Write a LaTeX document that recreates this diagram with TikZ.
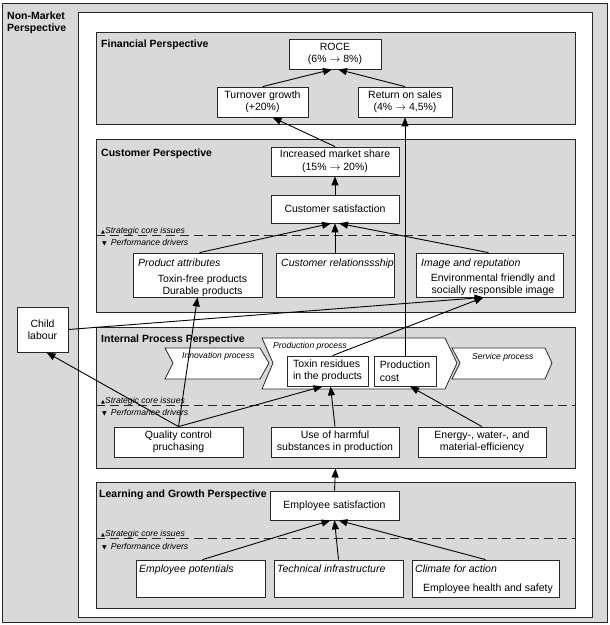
\documentclass[tikz,border=0pt]{standalone}
\usepackage{fontspec}
\setmainfont{Liberation Sans}
\newfontfamily\symfont{DejaVu Sans}
\usetikzlibrary{arrows.meta,calc}
\definecolor{bgray}{RGB}{217,217,217}
\definecolor{lineC}{RGB}{40,40,40}
\begin{document}
\begin{tikzpicture}[x=1pt,y=-1pt,
  font=\fontsize{10.5}{12.5}\selectfont,
  region/.style={draw=lineC, line width=0.9pt, fill=bgray, inner sep=0pt},
  wbox/.style={draw=lineC, line width=0.8pt, fill=white, inner sep=0pt, align=center},
  ttl/.style={font=\fontsize{10.5}{12.5}\selectfont\bfseries, anchor=base west, inner sep=0pt},
  hdr/.style={font=\fontsize{10.5}{12.5}\selectfont\itshape, anchor=base west, inner sep=0pt},
  body/.style={anchor=base, inner sep=0pt},
  small/.style={font=\fontsize{8.6}{10}\selectfont\itshape, anchor=base west, inner sep=0pt},
  arr/.style={draw=black, line width=0.9pt, -{Triangle[length=9pt,width=7pt]}},
  plain/.style={draw=black, line width=0.9pt},
  dsh/.style={draw=lineC, line width=0.9pt, dash pattern=on 9pt off 5pt},
  chev/.style={draw=lineC, line width=0.8pt, fill=white, line join=miter}
]
\useasboundingbox (0,0) rectangle (610,625);

% regions
\node[region, minimum width=605pt, minimum height=619pt] (nm) at (304.5,312.5) {};
\node[draw=lineC, line width=0.9pt, fill=white, inner sep=0pt, minimum width=514pt, minimum height=605pt] (wh) at (335,314.5) {};
\node[region, minimum width=479pt, minimum height=92pt] (fin) at (335.5,78) {};
\node[region, minimum width=479pt, minimum height=173pt] (cus) at (335.5,225.5) {};
\node[region, minimum width=479pt, minimum height=141pt] (ipp) at (335.5,397.5) {};
\node[region, minimum width=479pt, minimum height=126pt] (lgp) at (335.5,545) {};

% titles
\node[ttl] (nmt1) at (7,19) {Non-Market};
\node[ttl] (nmt2) at (7,31) {Perspective};
\node[ttl] (fint) at (101,47) {Financial Perspective};
\node[ttl] (cust) at (101,156) {Customer Perspective};
\node[ttl] (ippt) at (101,342) {Internal Process Perspective};
\node[ttl] (lgpt) at (99,497) {Learning and Growth Perspective};

% dashed dividers and labels
\draw[dsh] (cus.west |- 0,235) -- (cus.east |- 0,235);
\draw[dsh] (ipp.west |- 0,405) -- (ipp.east |- 0,405);
\draw[dsh] (lgp.west |- 0,538) -- (lgp.east |- 0,538);
\node[small] (cs1) at (101,233) {{\symfont\fontsize{5}{6}\selectfont ▲}Strategic core issues};
\node[small] (cp1) at (102,245) {{\symfont\fontsize{6}{6}\selectfont ▼}\hspace{4pt}Performance drivers};
\node[small] (is1) at (101,403) {{\symfont\fontsize{5}{6}\selectfont ▲}Strategic core issues};
\node[small] (ip1) at (102,415) {{\symfont\fontsize{6}{6}\selectfont ▼}\hspace{4pt}Performance drivers};
\node[small] (ls1) at (101,536) {{\symfont\fontsize{5}{6}\selectfont ▲}Strategic core issues};
\node[small] (lp1) at (102,549) {{\symfont\fontsize{6}{6}\selectfont ▼}\hspace{4pt}Performance drivers};

% chevrons
\draw[chev] (165,348) -- (260,348) -- (269,363) -- (260,379) -- (165,379) -- (173,363) -- cycle;
\draw[chev] (262,338) -- (445,338) -- (457,363) -- (445,389) -- (262,389) -- (273,363) -- cycle;
\draw[chev] (452,348) -- (545,348) -- (552,363) -- (545,379) -- (452,379) -- (460,363) -- cycle;
\node[small] (inn) at (182,358) {Innovation process};
\node[small] (prod) at (273,348) {Production process};
\node[small] (serv) at (472,359) {Service process};

% financial
\node[wbox, minimum width=92pt, minimum height=30pt] (roce) at (335,54) {ROCE\\(6\% $\rightarrow$ 8\%)};
\node[wbox, minimum width=91pt, minimum height=30pt] (tg) at (262.5,102) {Turnover growth\\(+20\%)};
\node[wbox, minimum width=94pt, minimum height=30pt] (ros) at (405,102) {Return on sales\\(4\% $\rightarrow$ 4,5\%)};

% customer
\node[wbox, minimum width=128pt, minimum height=29pt] (ims) at (335,161.5) {Increased market share\\(15\% $\rightarrow$ 20\%)};
\node[wbox, minimum width=128pt, minimum height=28pt] (csat) at (335,209) {Customer satisfaction};
\node[wbox, minimum width=129pt, minimum height=44pt] (pa) at (197.5,275) {};
\node[wbox, minimum width=118pt, minimum height=44pt] (cr) at (335,275) {};
\node[wbox, minimum width=147pt, minimum height=44pt] (ir) at (489.5,275) {};
\node[hdr] (pah) at (138,266) {Product attributes};
\node[body] (pa1) at (202.5,282) {Toxin-free products};
\node[body] (pa2) at (202.5,294) {Durable products};
\node[hdr] (crh) at (281,266) {Customer relationssship};
\node[hdr] (irh) at (421,266) {Image and reputation};
\node[body] (ir1) at (493,281) {Environmental friendly and};
\node[body] (ir2) at (493,293) {socially responsible image};

% non-market
\node[wbox, minimum width=51pt, minimum height=45pt] (child) at (42.5,329.5) {Child\\labour};

% internal
\node[wbox, minimum width=81pt, minimum height=30pt, align=left] (tox) at (327.5,371) {Toxin residues\\in the products};
\node[wbox, minimum width=62pt, minimum height=30pt, align=left] (pc) at (405,371) {Production\\cost};
\node[wbox, minimum width=129pt, minimum height=30pt] (qc) at (178.5,442) {Quality control\\pruchasing};
\node[wbox, minimum width=128pt, minimum height=30pt] (uh) at (335,442) {Use of harmful\\substances in production};
\node[wbox, minimum width=128pt, minimum height=30pt] (en) at (482,442) {Energy-, water-, and\\material-efficiency};

% learning
\node[wbox, minimum width=129pt, minimum height=29pt] (es) at (334.5,505.5) {Employee satisfaction};
\node[wbox, minimum width=129pt, minimum height=37pt] (ep) at (200.5,578.5) {};
\node[wbox, minimum width=129pt, minimum height=37pt] (ti) at (338.5,578.5) {};
\node[wbox, minimum width=147pt, minimum height=37pt] (cl) at (485.5,578.5) {};
\node[hdr] (eph) at (139,572) {Employee potentials};
\node[hdr] (tih) at (277,572) {Technical infrastructure};
\node[hdr] (clh) at (415,572) {Climate for action};
\node[body] (cl1) at (488,591) {Employee health and safety};

% connectors
\draw[arr] (tg.north) -- ([xshift=-3pt]roce.south);
\draw[arr] (ros.north) -- ([xshift=3pt]roce.south);
\draw[arr] (ims.north) -- ([xshift=10pt]tg.south);
\draw[arr] (pc.north) -- (ros.south);
\draw[arr] (csat.north) -- (ims.south);
\draw[arr] ([xshift=2pt]pa.north) -- ([xshift=-4pt]csat.south);
\draw[arr] (cr.north) -- (csat.south);
\draw[arr] ([xshift=-1pt]ir.north) -- ([xshift=4pt]csat.south);
\draw[arr] (child.east) -- ([xshift=-6pt]ir.south);
\draw[arr] ([xshift=5pt]tox.north) -- ([xshift=-6pt]ir.south);
\draw[arr] (qc.north) -- ([xshift=4pt]child.south);
\draw[arr] (qc.north) -- (pa.south);
\draw[arr] (qc.north) -- ([xshift=-5pt]tox.south);
\draw[arr] (uh.north) -- ([xshift=3pt]tox.south);
\draw[arr] (en.north) -- ([xshift=5pt]pc.south);
\draw[arr] (es.north) -- (ipp.south);
\draw[arr] ([xshift=2pt]ep.north) -- ([xshift=-4pt]es.south);
\draw[arr] (ti.north) -- (es.south);
\draw[arr] (cl.north) -- ([xshift=4pt]es.south);
\end{tikzpicture}
\end{document}
